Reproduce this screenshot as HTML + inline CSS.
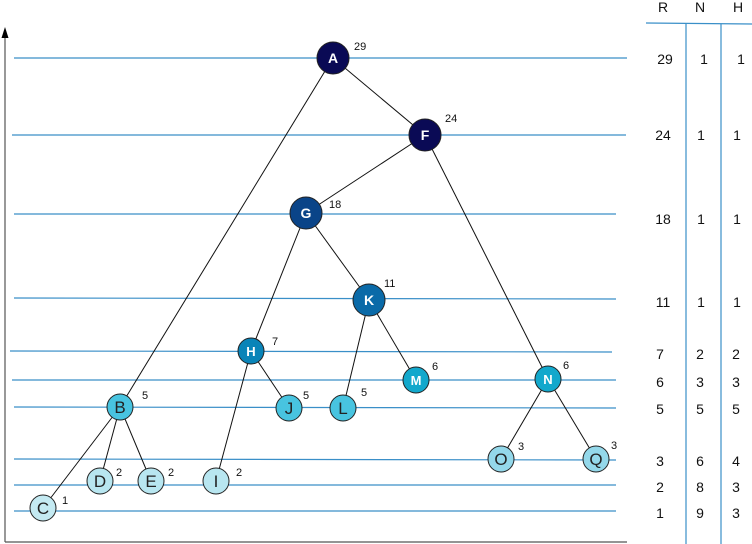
<!DOCTYPE html>
<html><head><meta charset="utf-8"><style>
html,body{margin:0;padding:0;background:#fff;}
svg{display:block;font-family:"Liberation Sans",sans-serif;}
</style></head><body>
<svg width="752" height="544" viewBox="0 0 752 544" xmlns="http://www.w3.org/2000/svg">
<g stroke="#3a8fc8" stroke-width="1.2">
<line x1="14" y1="58" x2="627" y2="58"/>
<line x1="12" y1="135" x2="626" y2="135"/>
<line x1="14" y1="214" x2="616" y2="214"/>
<line x1="14" y1="298" x2="616" y2="299"/>
<line x1="10" y1="351" x2="612" y2="352"/>
<line x1="12" y1="380" x2="616" y2="380"/>
<line x1="14" y1="407" x2="616" y2="408"/>
<line x1="14" y1="459" x2="616" y2="460"/>
<line x1="14" y1="485" x2="616" y2="485"/>
<line x1="14" y1="511" x2="616" y2="511"/>
<line x1="646" y1="23" x2="752" y2="24"/>
<line x1="686" y1="24" x2="686" y2="544"/>
<line x1="721" y1="24" x2="721" y2="544"/>
</g>
<g stroke="#555" stroke-width="1.2" fill="none">
<line x1="5" y1="36" x2="5" y2="542"/>
<line x1="5" y1="542" x2="627" y2="542"/>
</g>
<polygon points="5,27 1.5,38 8.5,38" fill="#000"/>
<g stroke="#111" stroke-width="1">
<line x1="333" y1="58" x2="425" y2="135"/>
<line x1="333" y1="58" x2="120" y2="407"/>
<line x1="425" y1="135" x2="306" y2="213"/>
<line x1="425" y1="135" x2="548" y2="379"/>
<line x1="306" y1="213" x2="369" y2="300"/>
<line x1="306" y1="213" x2="251" y2="351"/>
<line x1="251" y1="351" x2="289" y2="408"/>
<line x1="251" y1="351" x2="216" y2="481"/>
<line x1="369" y1="300" x2="343" y2="408"/>
<line x1="369" y1="300" x2="416" y2="380"/>
<line x1="548" y1="379" x2="501" y2="459"/>
<line x1="548" y1="379" x2="596" y2="459"/>
<line x1="120" y1="407" x2="43" y2="508"/>
<line x1="120" y1="407" x2="100" y2="481"/>
<line x1="120" y1="407" x2="151" y2="481"/>
</g>
<g stroke="#222" stroke-width="1">
<circle cx="333" cy="58" r="16" fill="#0a0a55"/>
<circle cx="425" cy="135" r="16" fill="#0a0a55"/>
<circle cx="306" cy="213" r="16" fill="#0a4488"/>
<circle cx="369" cy="300" r="16" fill="#0a6aa8"/>
<circle cx="251" cy="351" r="13" fill="#0a84b8"/>
<circle cx="416" cy="380" r="13" fill="#12a8cc"/>
<circle cx="548" cy="379" r="13" fill="#12a8cc"/>
<circle cx="120" cy="407" r="13" fill="#48c4e0"/>
<circle cx="289" cy="408" r="13" fill="#48c4e0"/>
<circle cx="343" cy="408" r="13" fill="#48c4e0"/>
<circle cx="501" cy="459" r="13" fill="#94d8ea"/>
<circle cx="596" cy="459" r="13" fill="#94d8ea"/>
<circle cx="100" cy="481" r="13" fill="#b8e6f0"/>
<circle cx="151" cy="481" r="13" fill="#b8e6f0"/>
<circle cx="216" cy="481" r="13" fill="#b8e6f0"/>
<circle cx="43" cy="508" r="13" fill="#c4eaf2"/>
</g>
<g fill="#fff" font-weight="bold" font-size="14" text-anchor="middle">
<text x="333" y="63">A</text>
<text x="425" y="140">F</text>
<text x="306" y="218">G</text>
<text x="369" y="305">K</text>
<text x="251" y="356" font-size="13">H</text>
<text x="416" y="385" font-size="13">M</text>
<text x="548" y="384" font-size="13">N</text>
</g>
<g fill="#222" font-size="17" text-anchor="middle">
<text x="120" y="413">B</text>
<text x="289" y="414">J</text>
<text x="343" y="414">L</text>
<text x="501" y="465">O</text>
<text x="596" y="465">Q</text>
<text x="100" y="487">D</text>
<text x="151" y="487">E</text>
<text x="216" y="487">I</text>
<text x="43" y="514">C</text>
</g>
<g fill="#111" font-size="11">
<text x="354" y="50">29</text>
<text x="445" y="122">24</text>
<text x="329" y="208">18</text>
<text x="384" y="287">11</text>
<text x="272" y="345">7</text>
<text x="432" y="370">6</text>
<text x="563" y="369">6</text>
<text x="142" y="399">5</text>
<text x="303" y="399">5</text>
<text x="361" y="396">5</text>
<text x="518" y="450">3</text>
<text x="611" y="449">3</text>
<text x="116" y="476">2</text>
<text x="168" y="476">2</text>
<text x="236" y="476">2</text>
<text x="62" y="504">1</text>
</g>
<g fill="#111" font-size="14" text-anchor="middle">
<text x="663" y="12">R</text><text x="700" y="12">N</text><text x="738" y="12">H</text>
<text x="665" y="64">29</text><text x="704" y="64">1</text><text x="741" y="64">1</text>
<text x="663" y="140">24</text><text x="701" y="140">1</text><text x="737" y="140">1</text>
<text x="663" y="224">18</text><text x="701" y="224">1</text><text x="737" y="224">1</text>
<text x="663" y="307">11</text><text x="701" y="307">1</text><text x="737" y="307">1</text>
<text x="660" y="359">7</text><text x="700" y="359">2</text><text x="736" y="359">2</text>
<text x="660" y="387">6</text><text x="700" y="387">3</text><text x="736" y="387">3</text>
<text x="660" y="414">5</text><text x="700" y="414">5</text><text x="736" y="414">5</text>
<text x="660" y="466">3</text><text x="700" y="466">6</text><text x="736" y="466">4</text>
<text x="660" y="492">2</text><text x="700" y="492">8</text><text x="736" y="492">3</text>
<text x="660" y="518">1</text><text x="700" y="518">9</text><text x="736" y="518">3</text>
</g>
</svg>
</body></html>
